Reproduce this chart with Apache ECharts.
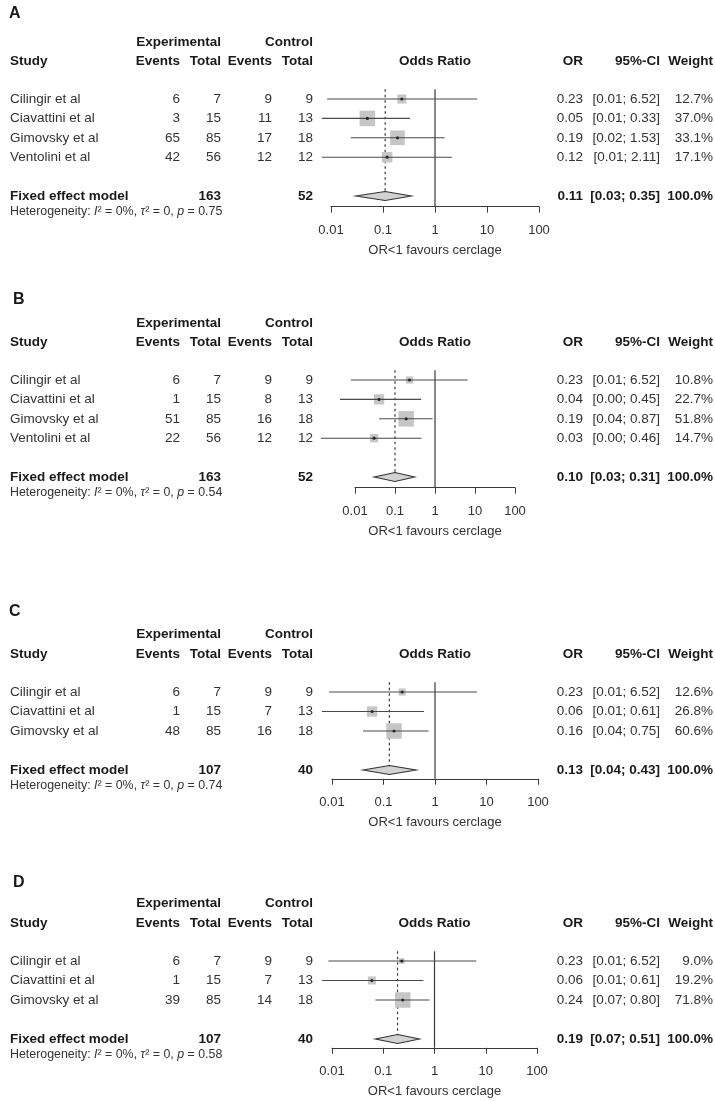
<!DOCTYPE html>
<html><head><meta charset="utf-8">
<script src="https://cdn.jsdelivr.net/npm/echarts@6/dist/echarts.min.js"></script>
<style>html,body{margin:0;padding:0;background:#fff}#c{width:715px;height:1101px}</style>
</head><body><div id="c"></div>
<script>
// ---------- data ----------
const panelLetters = ['A', 'B', 'C', 'D'];
const studyNames = ['Cilingir et al', 'Ciavattini et al', 'Gimovsky et al', 'Ventolini et al'];
const tickValues = [0.01, 0.1, 1, 10, 100];
const axisTitle = 'OR<1 favours cerclage';
const pooledWeight = 100.0;

// Panel A
const eventsExpA = [6, 3, 65, 42];
const totalExpA = [7, 15, 85, 56];
const eventsCtlA = [9, 11, 17, 12];
const totalCtlA = [9, 13, 18, 12];
const orA = [0.23, 0.05, 0.19, 0.12];
const loA = [0.0084, 0.0067, 0.024, 0.0067];
const hiA = [6.52, 0.33, 1.53, 2.11];
const weightA = [12.7, 37.0, 33.1, 17.1];
const pooledA = [0.11, 0.03, 0.35];
const sumA = [163, 52];
const hetA = [0, 0, 0.75];

// Panel B
const eventsExpB = [6, 1, 51, 22];
const totalExpB = [7, 15, 85, 56];
const eventsCtlB = [9, 8, 16, 12];
const totalCtlB = [9, 13, 18, 12];
const orB = [0.23, 0.04, 0.19, 0.03];
const loB = [0.0079, 0.0042, 0.04, 0.0014];
const hiB = [6.52, 0.45, 0.87, 0.46];
const weightB = [10.8, 22.7, 51.8, 14.7];
const pooledB = [0.10, 0.03, 0.31];
const sumB = [163, 52];
const hetB = [0, 0, 0.54];

// Panel C
const eventsExpC = [6, 1, 48];
const totalExpC = [7, 15, 85];
const eventsCtlC = [9, 7, 16];
const totalCtlC = [9, 13, 18];
const orC = [0.23, 0.06, 0.16];
const loC = [0.0088, 0.0064, 0.04];
const hiC = [6.52, 0.61, 0.75];
const weightC = [12.6, 26.8, 60.6];
const pooledC = [0.13, 0.04, 0.43];
const sumC = [107, 40];
const hetC = [0, 0, 0.74];

// Panel D
const eventsExpD = [6, 1, 39];
const totalExpD = [7, 15, 85];
const eventsCtlD = [9, 7, 14];
const totalCtlD = [9, 13, 18];
const orD = [0.23, 0.06, 0.24];
const loD = [0.0085, 0.0064, 0.07];
const hiD = [6.52, 0.61, 0.80];
const weightD = [9.0, 19.2, 71.8];
const pooledD = [0.19, 0.07, 0.51];
const sumD = [107, 40];
const hetD = [0, 0, 0.58];

// ---------- layout ----------
const FONT = "'Liberation Sans', Arial, sans-serif";
const FS = 13.5;
const COL = { study: 10, ee: 180, et: 221, ce: 272, ct: 313, or: 583, ci: 660, w: 713 };
const layouts = [
  { axisLeft: 331, axisWidth: 208, row0: 99, rowH: 19.4, axisGap: 1.55, letterTop: 1, letterLeft: 4 },
  { axisLeft: 355, axisWidth: 160, row0: 380, rowH: 19.4, axisGap: 1.55, letterTop: 287, letterLeft: 8 },
  { axisLeft: 332, axisWidth: 206, row0: 692, rowH: 19.5, axisGap: 1.45, letterTop: 599, letterLeft: 4 },
  { axisLeft: 332, axisWidth: 205, row0: 961, rowH: 19.5, axisGap: 1.45, letterTop: 870, letterLeft: 8 }
];

const panels = [
  { ee: eventsExpA, et: totalExpA, ce: eventsCtlA, ct: totalCtlA, or: orA, lo: loA, hi: hiA, w: weightA, pooled: pooledA, sum: sumA, het: hetA },
  { ee: eventsExpB, et: totalExpB, ce: eventsCtlB, ct: totalCtlB, or: orB, lo: loB, hi: hiB, w: weightB, pooled: pooledB, sum: sumB, het: hetB },
  { ee: eventsExpC, et: totalExpC, ce: eventsCtlC, ct: totalCtlC, or: orC, lo: loC, hi: hiC, w: weightC, pooled: pooledC, sum: sumC, het: hetC },
  { ee: eventsExpD, et: totalExpD, ce: eventsCtlD, ct: totalCtlD, or: orD, lo: loD, hi: hiD, w: weightD, pooled: pooledD, sum: sumD, het: hetD }
];

const L10 = Math.log10;
const MAXBOX = 15.5;

function fmtTick(v) {
  return String(parseFloat(Math.pow(10, v).toPrecision(6)));
}

const option = { animation: false, title: [], grid: [], xAxis: [], yAxis: [], series: [] };

panels.forEach((P, p) => {
  const Ly = layouts[p];
  const n = P.or.length;
  const yMin = -0.5, yMax = n + Ly.axisGap;
  option.title.push({ text: panelLetters[p], left: Ly.letterLeft, top: Ly.letterTop,
    textStyle: { fontSize: 16, fontWeight: 'bold', color: '#1a1a1a', fontFamily: FONT } });
  option.grid.push({ left: Ly.axisLeft, width: Ly.axisWidth,
    top: Ly.row0 + yMin * Ly.rowH, height: (yMax - yMin) * Ly.rowH });
  option.xAxis.push({
    gridIndex: p, type: 'value', min: L10(tickValues[0]), max: L10(tickValues[tickValues.length - 1]), interval: 1,
    axisLine: { show: true, onZero: false, lineStyle: { color: '#3a3a3a', width: 1 } },
    axisTick: { show: true, length: 6, lineStyle: { color: '#3a3a3a' } },
    axisLabel: { margin: 17, fontSize: 13, color: '#333', fontFamily: FONT, formatter: fmtTick },
    splitLine: { show: false },
    name: axisTitle, nameLocation: 'middle', nameGap: 37,
    nameTextStyle: { fontSize: 13, color: '#333', fontFamily: FONT }
  });
  option.yAxis.push({ gridIndex: p, type: 'value', inverse: true, min: yMin, max: yMax, show: false });

  const wmax = Math.max.apply(null, P.w);

  // reference lines (no effect at 1, pooled estimate dotted)
  option.series.push({
    type: 'custom', xAxisIndex: p, yAxisIndex: p, z: 1, clip: false,
    data: [[L10(P.pooled[0]), n + 1]],
    encode: { x: 0, y: 1 },
    renderItem: function (params, api) {
      const a = api.coord([0, yMin]), b = api.coord([0, yMax]);
      const c = api.coord([api.value(0), yMin]), d = api.coord([api.value(0), api.value(1)]);
      return { type: 'group', children: [
        { type: 'line', shape: { x1: a[0], y1: a[1], x2: b[0], y2: b[1] }, style: { stroke: '#3a3a3a', lineWidth: 1.2 } },
        { type: 'line', shape: { x1: c[0], y1: c[1], x2: d[0], y2: d[1] }, style: { stroke: '#3a3a3a', lineWidth: 1.2, lineDash: [2.5, 3] } }
      ] };
    }
  });

  // study squares & CIs
  option.series.push({
    type: 'custom', xAxisIndex: p, yAxisIndex: p, z: 3, clip: false,
    data: P.or.map((v, i) => [L10(v), i, L10(P.lo[i]), L10(P.hi[i]), P.w[i]]),
    encode: { x: 0, y: 1 },
    renderItem: function (params, api) {
      const row = api.value(1);
      const c = api.coord([api.value(0), row]);
      const a = api.coord([api.value(2), row]);
      const b = api.coord([api.value(3), row]);
      const s = MAXBOX * Math.sqrt(api.value(4) / wmax);
      return { type: 'group', children: [
        { type: 'rect', shape: { x: c[0] - s / 2, y: c[1] - s / 2, width: s, height: s }, style: { fill: '#c6c6c6' } },
        { type: 'line', shape: { x1: a[0], y1: a[1], x2: b[0], y2: b[1] }, style: { stroke: '#4a4a4a', lineWidth: 1.1 } },
        { type: 'circle', shape: { cx: c[0], cy: c[1], r: 1.6 }, style: { fill: '#2a2a2a' } }
      ] };
    }
  });

  // pooled diamond
  option.series.push({
    type: 'custom', xAxisIndex: p, yAxisIndex: p, z: 3, clip: false,
    data: [[L10(P.pooled[0]), n + 1, L10(P.pooled[1]), L10(P.pooled[2])]],
    encode: { x: 0, y: 1 },
    renderItem: function (params, api) {
      const row = api.value(1);
      const c = api.coord([api.value(0), row]);
      const a = api.coord([api.value(2), row]);
      const b = api.coord([api.value(3), row]);
      const h = 4.5;
      return { type: 'polygon', shape: { points: [[a[0], a[1]], [c[0], c[1] - h], [b[0], b[1]], [c[0], c[1] + h]] },
        style: { fill: '#d2d2d2', stroke: '#333', lineWidth: 1.1 } };
    }
  });

  // table text
  const textData = [[0, -2.94, 0, 0], [0, -1.94, 1, 0]];
  for (let i = 0; i < n; i++) textData.push([0, i, 2, i]);
  textData.push([0, n + 1, 3, 0]);
  textData.push([0, n + 1.8, 4, 0]);
  option.series.push({
    type: 'custom', xAxisIndex: p, yAxisIndex: p, z: 5, clip: false,
    data: textData, encode: { x: 0, y: 1 },
    renderItem: function (params, api) {
      const kind = api.value(2), i = api.value(3);
      const y = api.coord([0, api.value(1)])[1];
      const kids = [];
      const T = (x, t, bold, align) => kids.push({ type: 'text', x: x, y: y,
        style: { text: String(t), font: (bold ? 'bold ' : '') + FS + 'px ' + FONT, fill: bold ? '#1a1a1a' : '#333',
          align: align || 'right', verticalAlign: 'middle' } });
      if (kind === 0) {
        T(COL.et, 'Experimental', true); T(COL.ct, 'Control', true);
      } else if (kind === 1) {
        T(COL.study, 'Study', true, 'left'); T(COL.ee, 'Events', true); T(COL.et, 'Total', true);
        T(COL.ce, 'Events', true); T(COL.ct, 'Total', true);
        T(api.coord([0, 0])[0], 'Odds Ratio', true, 'center');
        T(COL.or, 'OR', true); T(COL.ci, '95%-CI', true); T(COL.w, 'Weight', true);
      } else if (kind === 2) {
        T(COL.study, studyNames[i], false, 'left');
        T(COL.ee, P.ee[i]); T(COL.et, P.et[i]); T(COL.ce, P.ce[i]); T(COL.ct, P.ct[i]);
        T(COL.or, P.or[i].toFixed(2));
        T(COL.ci, '[' + P.lo[i].toFixed(2) + '; ' + P.hi[i].toFixed(2) + ']');
        T(COL.w, P.w[i].toFixed(1) + '%');
      } else if (kind === 3) {
        T(COL.study, 'Fixed effect model', true, 'left');
        T(COL.et, P.sum[0], true); T(COL.ct, P.sum[1], true);
        T(COL.or, P.pooled[0].toFixed(2), true);
        T(COL.ci, '[' + P.pooled[1].toFixed(2) + '; ' + P.pooled[2].toFixed(2) + ']', true);
        T(COL.w, pooledWeight.toFixed(1) + '%', true);
      } else {
        const st = { fontSize: 12.4, fontFamily: FONT, fill: '#333' };
        kids.push({ type: 'text', x: COL.study, y: y, style: {
          text: '{a|Heterogeneity: }{i|I}{a|² = ' + P.het[0] + '%, }{i|τ}{a|² = ' + P.het[1] + ', }{i|p}{a| = ' + P.het[2].toFixed(2) + '}',
          align: 'left', verticalAlign: 'middle',
          rich: { a: st, i: Object.assign({}, st, { fontStyle: 'italic' }) } } });
      }
      return { type: 'group', children: kids };
    }
  });
});

const chart = echarts.init(document.getElementById('c'), null, { renderer: 'canvas' });
chart.setOption(option);
</script>
</body></html>
